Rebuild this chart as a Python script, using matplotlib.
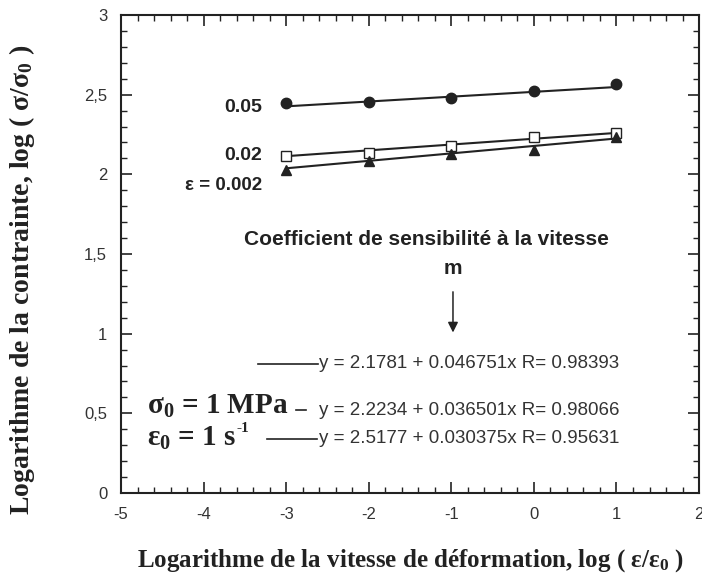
import matplotlib
matplotlib.use("Agg")
import matplotlib.pyplot as plt
from matplotlib.ticker import MultipleLocator, FixedLocator

# data
log_rate = [-3, -2, -1, 0, 1]
s_005 = [2.445, 2.455, 2.478, 2.525, 2.567]
s_002 = [2.115, 2.135, 2.178, 2.232, 2.262]
s_0002 = [2.03, 2.085, 2.128, 2.155, 2.232]

# fits printed on the figure (intercept, slope, R)
fit_0002 = (2.1781, 0.046751, 0.98393)
fit_002 = (2.2234, 0.036501, 0.98066)
fit_005 = (2.5177, 0.030375, 0.95631)

xticks = [-5, -4, -3, -2, -1, 0, 1, 2]
yticks = [0, 0.5, 1, 1.5, 2, 2.5, 3]
ytick_labels = ['0', '0,5', '1', '1,5', '2', '2,5', '3']

sans = 'Liberation Sans'
serif = 'Liberation Serif'

plt.rcParams['axes.unicode_minus'] = False
plt.rcParams['mathtext.fontset'] = 'custom'
plt.rcParams['mathtext.rm'] = 'Liberation Serif:bold'
plt.rcParams['mathtext.it'] = 'Liberation Serif:bold'
plt.rcParams['mathtext.bf'] = 'Liberation Serif:bold'
plt.rcParams['mathtext.default'] = 'rm'

fig = plt.figure(figsize=(7.02, 5.74), dpi=100)
ax = fig.add_axes([0.1724, 0.1411, 0.8234, 0.8328])

xe = [log_rate[0], log_rate[-1]]
def fitline(f):
    return [f[0] + f[1]*x for x in xe]

ax.plot(xe, fitline(fit_005), color='#222222', lw=1.5)
ax.plot(xe, fitline(fit_002), color='#222222', lw=1.5)
ax.plot(xe, fitline(fit_0002), color='#222222', lw=1.5)
ax.plot(log_rate, s_005, 'o', ms=7.5, color='#222222', ls='none')
ax.plot(log_rate, s_002, 's', ms=7, mfc='white', mec='#222222', mew=1, ls='none')
ax.plot(log_rate, s_0002, '^', ms=7, color='#222222', ls='none')

ax.set_xlim(-5, 2)
ax.set_ylim(0, 3)
ax.xaxis.set_major_locator(FixedLocator(xticks))
ax.yaxis.set_major_locator(FixedLocator(yticks))
ax.set_yticklabels(ytick_labels)
ax.xaxis.set_minor_locator(MultipleLocator(0.2))
ax.yaxis.set_minor_locator(MultipleLocator(0.1))
ax.tick_params(which='both', direction='in', top=True, right=True, colors='#222222')
ax.tick_params(which='major', length=8, width=1.2, labelsize=12, pad=10, labelcolor='#333333')
ax.tick_params(which='minor', length=4, width=1)
for lab in ax.get_xticklabels() + ax.get_yticklabels():
    lab.set_fontfamily(sans)
for sp in ax.spines.values():
    sp.set_linewidth(1.5)
    sp.set_color('#222222')

ax.set_xlabel('Logarithme de la vitesse de déformation, log ( ε/ε$_0$ )',
              fontfamily=serif, fontweight='bold', fontsize=18, labelpad=18,
              color='#222222')
fig.text(22/702, 1 - 280/574, 'Logarithme de la contrainte, log ( σ/σ$_0$ )',
         rotation=90, ha='center', va='center', fontfamily=serif,
         fontweight='bold', fontsize=20, color='#222222')

# curve labels
lab_kw = dict(fontfamily=sans, fontweight='bold', fontsize=14, color='#222222',
              ha='right', va='center')
ax.text(-3.29, 2.417, '0.05', **lab_kw)
ax.text(-3.29, 2.12, '0.02', **lab_kw)
ax.text(-3.29, 1.927, 'ε = 0.002', fontfamily=sans, fontweight='bold',
        fontsize=13.5, color='#222222', ha='right', va='center')

ax.text(-1.3, 1.594, 'Coefficient de sensibilité à la vitesse', fontfamily=sans,
        fontweight='bold', fontsize=15, color='#222222', ha='center', va='center')
ax.text(-0.98, 1.41, 'm', fontfamily=sans, fontweight='bold', fontsize=15,
        color='#222222', ha='center', va='center')
ax.annotate('', xy=(-0.98, 0.99), xytext=(-0.98, 1.28),
            arrowprops=dict(arrowstyle='-|>', color='#222222', lw=1.1,
                            mutation_scale=15))

eq_kw = dict(fontfamily=sans, fontsize=13.5, color='#333333', ha='left', va='center')
def eqtext(f):
    return 'y = %s + %sx R= %s' % (f[0], f[1], f[2])
ax.plot([-3.34, -2.62], [0.81, 0.81], color='#222222', lw=1.2)
ax.text(-2.6, 0.81, eqtext(fit_0002), **eq_kw)
ax.plot([-2.88, -2.76], [0.52, 0.52], color='#222222', lw=1.2)
ax.text(-2.6, 0.52, eqtext(fit_002), **eq_kw)
ax.plot([-3.23, -2.63], [0.339, 0.339], color='#222222', lw=1.2)
ax.text(-2.6, 0.339, eqtext(fit_005), **eq_kw)

ax.text(-4.69, 0.546, 'σ$_0$ = 1 MPa', fontfamily=serif, fontweight='bold',
        fontsize=21, color='#222222', ha='left', va='center')
ax.text(-4.69, 0.345, 'ε$_0$ = 1 s', fontfamily=serif, fontweight='bold',
        fontsize=21, color='#222222', ha='left', va='center')
ax.text(-3.60, 0.405, '-1', fontfamily=serif, fontweight='bold',
        fontsize=11, color='#222222', ha='left', va='center')

fig.savefig('out.png', dpi=100)
